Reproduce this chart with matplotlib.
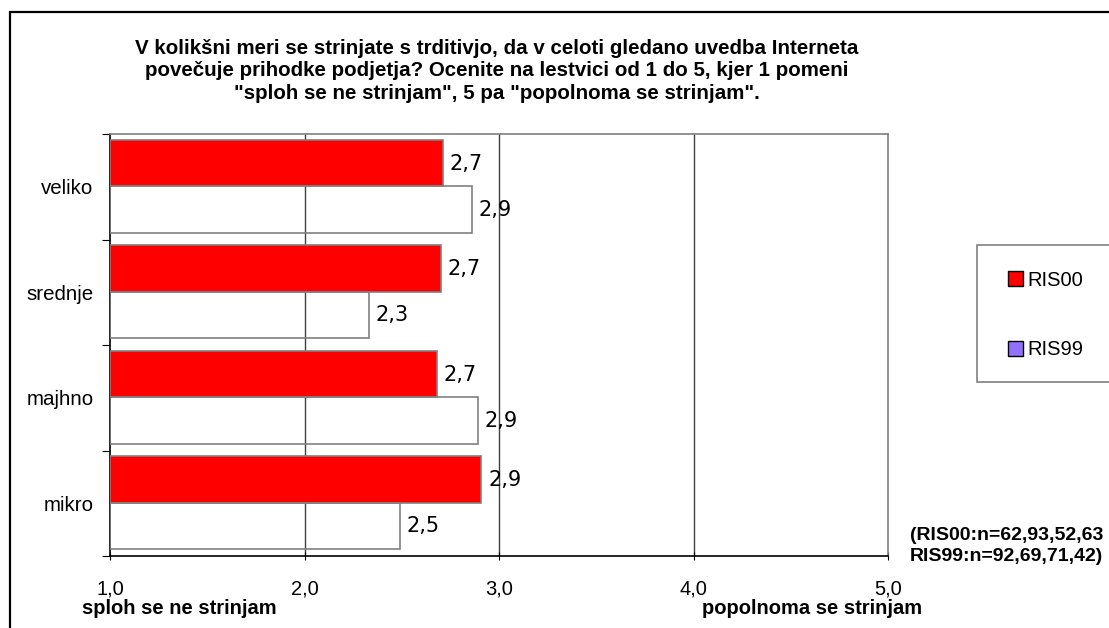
import matplotlib
matplotlib.use("Agg")
import matplotlib.pyplot as plt
from matplotlib.patches import Rectangle, Patch
import numpy as np

categories = ["veliko", "srednje", "majhno", "mikro"]
ris00 = [2.71, 2.70, 2.68, 2.91]
ris99 = [2.86, 2.33, 2.89, 2.49]
series_names = ["RIS00", "RIS99"]
xticks = [1.0, 2.0, 3.0, 4.0, 5.0]
xtick_labels = ["1,0", "2,0", "3,0", "4,0", "5,0"]
title = ("V kolikšni meri se strinjate s trditivjo, da v celoti gledano uvedba Interneta\n"
         "povečuje prihodke podjetja? Ocenite na lestvici od 1 do 5, kjer 1 pomeni\n"
         "\"sploh se ne strinjam\", 5 pa \"popolnoma se strinjam\".")
low_label = "sploh se ne strinjam"
high_label = "popolnoma se strinjam"
note = "(RIS00:n=62,93,52,63\nRIS99:n=92,69,71,42)"

W, H = 1109, 628
fig = plt.figure(figsize=(W / 100, H / 100), dpi=100)
plt.rcParams['font.family'] = ['Liberation Sans', 'DejaVu Sans']

def fx(px):
    return px / W

def fy(py):
    return 1 - py / H

# outer frame
fig.patches.append(Rectangle((fx(10), fy(700)), fx(1200), (700 - 12) / H,
                             transform=fig.transFigure, fill=False,
                             edgecolor='black', linewidth=1.6, zorder=0))

ax = fig.add_axes([fx(110), fy(556), fx(888) - fx(110), (556 - 134) / H])
ax.set_xlim(1, 5)
ax.set_ylim(len(categories), 0)

y = np.arange(len(categories))
bh = 0.44
red_col = '#FF0000'
ax.barh(y + 0.5 - bh / 2 - 0.005, [v - 1 for v in ris00], left=1, height=bh,
        color=red_col, edgecolor='#808080', linewidth=1.2, zorder=3)
ax.barh(y + 0.5 + bh / 2 - 0.005, [v - 1 for v in ris99], left=1, height=bh,
        facecolor='none', edgecolor='#808080', linewidth=1.2, zorder=3)

for i in range(len(categories)):
    ax.annotate(f"{ris00[i]:.1f}".replace('.', ','), (ris00[i], y[i] + 0.5 - bh / 2),
                xytext=(5, 0), textcoords='offset points', va='center', ha='left',
                fontsize=15, family='DejaVu Sans', zorder=5)
    ax.annotate(f"{ris99[i]:.1f}".replace('.', ','), (ris99[i], y[i] + 0.5 + bh / 2),
                xytext=(5, 0), textcoords='offset points', va='center', ha='left',
                fontsize=15, family='DejaVu Sans', zorder=5)

# gridlines
for xv in xticks[1:-1]:
    ax.axvline(xv, color='#404040', linewidth=1.0, zorder=1)

ax.set_xticks(xticks)
ax.set_xticklabels(xtick_labels, fontsize=14.5)
ax.set_yticks(np.arange(len(categories) + 1))
ax.set_yticklabels([])
ax.set_yticks(y + 0.5, minor=True)
ax.set_yticklabels(categories, minor=True, fontsize=14.8)
ax.tick_params(axis='y', which='minor', length=0, pad=12)
ax.tick_params(axis='y', which='major', length=6, direction='out', color='black')
ax.tick_params(axis='x', which='major', length=6, direction='inout', pad=14, color='black')

for s in ['top', 'right']:
    ax.spines[s].set_color('#808080')
    ax.spines[s].set_linewidth(1.2)
for s in ['left', 'bottom']:
    ax.spines[s].set_color('black')
    ax.spines[s].set_linewidth(1.2)

# title
fig.text(fx(497), fy(71), title, ha='center', va='center', fontsize=14.8,
         fontweight='bold', linespacing=1.22)

fig.text(fx(179), fy(608), low_label, ha='center', va='center', fontsize=14.5, fontweight='bold')
fig.text(fx(812), fy(609), high_label, ha='center', va='center', fontsize=14.5, fontweight='bold')
fig.text(fx(910), fy(546), note, ha='left', va='center', fontsize=14, fontweight='bold',
         linespacing=1.3)

# legend frame
fig.patches.append(Rectangle((fx(977), fy(382)), fx(200), (382 - 245) / H,
                             transform=fig.transFigure, facecolor='white',
                             edgecolor='#808080', linewidth=1.2, zorder=1))
handles = [Patch(facecolor=red_col, edgecolor='black', linewidth=1.0),
           Patch(facecolor='#9370FF', edgecolor='black', linewidth=1.0)]
fig.legend(handles, series_names, loc='center left', bbox_to_anchor=(fx(1000), fy(315)),
           frameon=False, fontsize=14.5, handlelength=0.75, handleheight=0.75,
           handletextpad=0.2, labelspacing=2.5, borderaxespad=0)

fig.savefig("out.png", dpi=100)
